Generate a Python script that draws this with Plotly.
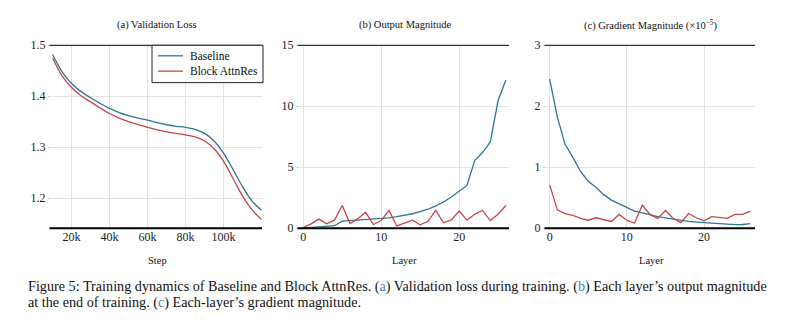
import plotly.graph_objects as go

# ---- data ----
steps = [10000, 15000, 20000, 25000, 30000, 35000, 40000, 45000, 50000, 55000,
         60000, 65000, 70000, 75000, 80000, 85000, 90000, 95000, 100000,
         105000, 110000, 115000, 120000]
loss_baseline = [1.482, 1.448, 1.425, 1.409, 1.397, 1.386, 1.376, 1.368, 1.362,
                 1.357, 1.353, 1.348, 1.344, 1.341, 1.339, 1.335, 1.327, 1.312,
                 1.288, 1.256, 1.222, 1.194, 1.176]
loss_attnres = [1.475, 1.440, 1.417, 1.401, 1.389, 1.377, 1.366, 1.357, 1.350,
                1.344, 1.339, 1.334, 1.330, 1.327, 1.324, 1.320, 1.312, 1.297,
                1.272, 1.238, 1.204, 1.177, 1.158]

layers = list(range(27))
out_baseline = [0.0, 0.05, 0.1, 0.15, 0.2, 0.58, 0.62, 0.66, 0.7, 0.73, 0.77,
                0.85, 0.94, 1.05, 1.18, 1.35, 1.55, 1.82, 2.15, 2.55, 3.05,
                3.5, 5.55, 6.2, 7.07, 10.47, 12.15]
out_attnres = [0.05, 0.35, 0.74, 0.35, 0.65, 1.86, 0.38, 0.78, 1.3, 0.3, 0.62,
               1.46, 0.18, 0.4, 0.65, 0.28, 0.56, 1.46, 0.44, 0.68, 1.4, 0.66,
               1.14, 1.45, 0.62, 1.14, 1.86]

grad_baseline = [2.45, 1.82, 1.375, 1.165, 0.93, 0.77, 0.67, 0.55, 0.46, 0.40,
                 0.34, 0.28, 0.25, 0.215, 0.19, 0.17, 0.15, 0.125, 0.11, 0.10,
                 0.09, 0.08, 0.07, 0.062, 0.056, 0.06, 0.075]
grad_attnres = [0.71, 0.30, 0.24, 0.21, 0.16, 0.13, 0.17, 0.14, 0.11, 0.225,
                0.13, 0.08, 0.38, 0.225, 0.16, 0.29, 0.16, 0.09, 0.24, 0.17,
                0.12, 0.19, 0.17, 0.16, 0.225, 0.225, 0.28]

step_ticks = [20000, 40000, 60000, 80000, 100000]
step_labels = ["20k", "40k", "60k", "80k", "100k"]
series_names = ["Baseline", "Block AttnRes"]

C_BASE = "#2f7591"
C_ATTN = "#c4474c"
SERIF = "Liberation Serif"
W, H = 800, 328

fig = go.Figure()

panels = [
    ("x", "y", steps, loss_baseline, loss_attnres, "spline"),
    ("x2", "y2", layers, out_baseline, out_attnres, "linear"),
    ("x3", "y3", layers, grad_baseline, grad_attnres, "linear"),
]
for xa, ya, xs, yb, yr, shape in panels:
    for ys, name, col in [(yb, series_names[0], C_BASE), (yr, series_names[1], C_ATTN)]:
        fig.add_trace(go.Scatter(x=xs, y=ys, mode="lines", name=name,
                                 line=dict(color=col, width=1.3, shape=shape),
                                 xaxis=xa, yaxis=ya, showlegend=False))

# pixel geometry of the three panels
px_x = [(52, 262), (300, 509), (547, 755)]
top, bot = 40, 231
ydom = [1 - bot / H, 1 - top / H]

tickfont = dict(family=SERIF, size=12, color="#222")
grid = "#e3e3e3"

common_x = dict(showgrid=True, gridcolor=grid, gridwidth=1, zeroline=False,
                showline=False, ticks="", tickfont=tickfont)
common_y = dict(showgrid=True, gridcolor=grid, gridwidth=1, zeroline=False,
                showline=False, ticks="outside", ticklen=3, tickcolor="#d0d0d0",
                tickfont=tickfont)

fig.update_layout(
    xaxis=dict(domain=[px_x[0][0] / W, px_x[0][1] / W], range=[9700, 120200],
               tickvals=step_ticks, ticktext=step_labels, anchor="y", **common_x),
    yaxis=dict(domain=ydom, range=[1.141, 1.5], tickvals=[1.2, 1.3, 1.4, 1.5],
               anchor="x", **common_y),
    xaxis2=dict(domain=[px_x[1][0] / W, px_x[1][1] / W], range=[-0.42, 26.4],
                tickvals=[0, 10, 20], anchor="y2", **common_x),
    yaxis2=dict(domain=ydom, range=[0, 15], tickvals=[0, 5, 10, 15],
                anchor="x2", **common_y),
    xaxis3=dict(domain=[px_x[2][0] / W, px_x[2][1] / W], range=[-0.34, 26.6],
                tickvals=[0, 10, 20], anchor="y3", **common_x),
    yaxis3=dict(domain=ydom, range=[0, 3], tickvals=[0, 1, 2, 3],
                anchor="x3", **common_y),
)

# top and bottom frame lines of each panel
for xr, yr in [("x domain", "y domain"), ("x2 domain", "y2 domain"), ("x3 domain", "y3 domain")]:
    fig.add_shape(type="line", xref=xr, yref=yr, x0=-0.012, x1=1, y0=1, y1=1,
                  line=dict(color="#333", width=1.3), layer="above")
    fig.add_shape(type="line", xref=xr, yref=yr, x0=-0.012, x1=1, y0=0, y1=0,
                  line=dict(color="#000", width=2), layer="above")


def px(xp, yp):
    """Pixel position -> paper coordinates."""
    return xp / W, 1 - yp / H


def label(xp, yp, text, size, xanchor="center"):
    x, y = px(xp, yp)
    fig.add_annotation(x=x, y=y, xref="paper", yref="paper", text=text,
                       xanchor=xanchor, yanchor="middle", showarrow=False,
                       font=dict(family=SERIF, size=size, color="#111"))


# legend box in the validation-loss panel
lx0, ly0 = px(152, 40)
lx1, ly1 = px(263, 79)
fig.add_shape(type="rect", xref="paper", yref="paper", x0=lx0, x1=lx1, y0=ly1, y1=ly0,
              line=dict(color="#222", width=1), fillcolor="white", layer="above")
for i, (name, col) in enumerate(zip(series_names, [C_BASE, C_ATTN])):
    yy = 51 + 16 * i
    a0, b0 = px(158, yy)
    a1, _ = px(183, yy)
    fig.add_shape(type="line", xref="paper", yref="paper", x0=a0, x1=a1, y0=b0, y1=b0,
                  line=dict(color=col, width=1.3), layer="above")
    label(188, yy, name, 11.5, xanchor="left")

titles = ["(a) Validation Loss", "(b) Output Magnitude",
          "(c) Gradient Magnitude (×10<sup>−5</sup>)"]
xtitles = ["Step", "Layer", "Layer"]
for (x0, x1), t, xt in zip(px_x, titles, xtitles):
    cx = (x0 + x1) / 2
    label(cx, 19, t, 10.5)
    label(cx, 265, xt, 10.5)

blue = '<span style="color:#3b7fd9">{}</span>'
cap1 = ("Figure 5: Training dynamics of Baseline and Block AttnRes. (" + blue.format("a") +
        ") Validation loss during training. (" + blue.format("b") +
        ") Each layer’s output magnitude")
cap2 = "at the end of training. (" + blue.format("c") + ") Each-layer’s gradient magnitude."
label(26, 292, cap1, 14.2, xanchor="left")
label(26, 309, cap2, 14.2, xanchor="left")

fig.update_layout(
    width=W, height=H, margin=dict(l=0, r=0, t=0, b=0),
    paper_bgcolor="white", plot_bgcolor="white",
    showlegend=False,
)

fig.write_html("out.html")
